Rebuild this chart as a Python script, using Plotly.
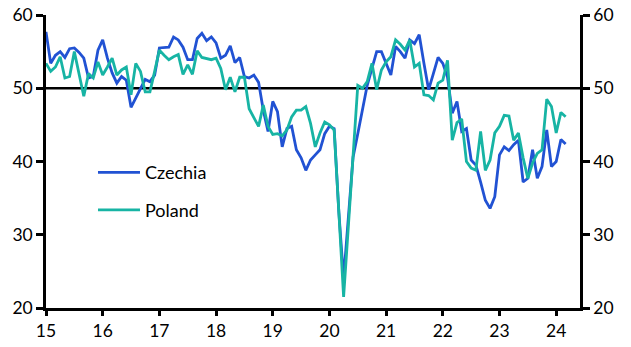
import plotly.graph_objects as go

start_year = 2015
czechia = [57.7, 53.4, 54.5, 55.0, 54.2, 55.4, 55.5, 54.9, 54.1, 51.4, 51.6, 55.2,
           56.6, 54.1, 52.1, 50.7, 51.6, 51.1, 47.4, 48.6, 49.8, 51.2, 50.9, 51.8,
           55.5, 55.5, 55.6, 57.0, 56.6, 55.6, 53.9, 53.9, 56.8, 57.5, 56.5, 57.0,
           56.2, 54.1, 54.5, 55.8, 53.5, 54.2, 51.6, 51.4, 51.8, 50.8, 47.0, 44.1,
           48.2, 46.8, 42.0, 44.5, 44.8, 41.6, 40.5, 38.8, 40.2, 40.9, 41.6, 43.8,
           44.8, 44.5, 33.0, 24.0, 33.0, 40.6, 43.8, 47.1, 50.4, 52.7, 55.0, 55.0,
           53.4, 51.8, 55.7, 55.0, 54.1, 56.6, 56.1, 57.3, 53.4, 49.8, 52.0, 54.2,
           53.4, 51.5, 46.6, 48.2, 44.1, 44.5, 40.2, 39.5, 37.2, 34.7, 33.6, 35.2,
           40.9, 42.0, 41.5, 42.3, 42.9, 37.2, 37.7, 41.6, 37.7, 39.3, 44.3, 39.3,
           40.0, 43.0, 42.4]
poland = [53.4, 52.3, 52.9, 54.3, 51.4, 51.6, 55.0, 52.1, 48.9, 52.0, 51.4, 53.6,
          51.8, 52.9, 54.1, 51.8, 52.5, 52.9, 49.1, 53.4, 52.3, 49.5, 49.5, 52.3,
          55.2, 54.5, 53.9, 54.3, 54.6, 51.9, 53.2, 51.9, 55.1, 54.2, 54.0, 53.9,
          54.1, 52.7, 49.8, 51.5, 49.5, 51.5, 51.5, 47.2, 46.0, 44.8, 47.7, 44.8,
          43.7, 43.8, 43.5, 44.3, 46.1, 47.0, 47.0, 47.5, 45.2, 42.0, 43.9, 45.4,
          45.0, 44.3, 33.0, 21.5, 31.1, 40.8, 50.4, 50.0, 50.9, 53.4, 49.8, 52.5,
          53.6, 54.3, 56.6, 56.0, 55.2, 56.6, 52.9, 53.4, 49.1, 49.0, 48.4, 50.7,
          51.1, 53.8, 42.9, 45.3, 45.8, 40.0, 39.1, 38.8, 44.1, 38.8, 40.2, 43.9,
          44.8, 46.3, 46.2, 42.9, 43.9, 40.5, 37.7, 39.8, 41.1, 41.6, 48.5, 47.5,
          43.9, 46.7, 46.1]
x_ticks = [15, 16, 17, 18, 19, 20, 21, 22, 23, 24]
y_ticks = [20, 30, 40, 50, 60]

x_cz = [(start_year - 2000) + i / 12 for i in range(len(czechia))]
x_pl = [(start_year - 2000) + i / 12 for i in range(len(poland))]

FONT = "Lato"
fig = go.Figure()
fig.add_trace(go.Scatter(x=x_cz, y=czechia, mode="lines", name="Czechia",
                         line=dict(color="#2152d3", width=2.8), legendgroup="a"))
fig.add_trace(go.Scatter(x=x_pl, y=poland, mode="lines", name="Poland",
                         line=dict(color="#17b4a4", width=2.8), legendgroup="b"))
# empty trace so the right-hand axis is drawn
fig.add_trace(go.Scatter(x=[], y=[], yaxis="y2", showlegend=False, hoverinfo="skip"))

fig.add_shape(type="line", xref="paper", x0=0, x1=1, yref="y", y0=50, y1=50,
              line=dict(color="black", width=2.5), layer="below")

axis_common = dict(showgrid=False, zeroline=False, showline=True, linecolor="black",
                   linewidth=2.5, ticks="outside", tickcolor="black", tickwidth=2.5,
                   automargin=False,
                   tickfont=dict(family=FONT, size=17.5, color="black"))

fig.update_layout(
    width=631, height=347,
    margin=dict(l=46, r=51, t=15, b=39, autoexpand=False),
    plot_bgcolor="white", paper_bgcolor="white",
    xaxis=dict(range=[15, 24.42], tickvals=x_ticks, ticktext=[str(v) for v in x_ticks],
               ticklen=5, **axis_common),
    yaxis=dict(range=[20, 60], tickvals=y_ticks, ticklen=7, **axis_common),
    yaxis2=dict(range=[20, 60], tickvals=y_ticks, ticklen=7, overlaying="y", side="right",
                **axis_common),
    showlegend=True,
    legend=dict(x=0.088, y=0.525, xanchor="left", yanchor="top", bgcolor="rgba(0,0,0,0)",
                font=dict(family=FONT, size=18, color="black"), traceorder="grouped",
                tracegroupgap=11, itemwidth=42),
)
fig.write_html("out.html")
